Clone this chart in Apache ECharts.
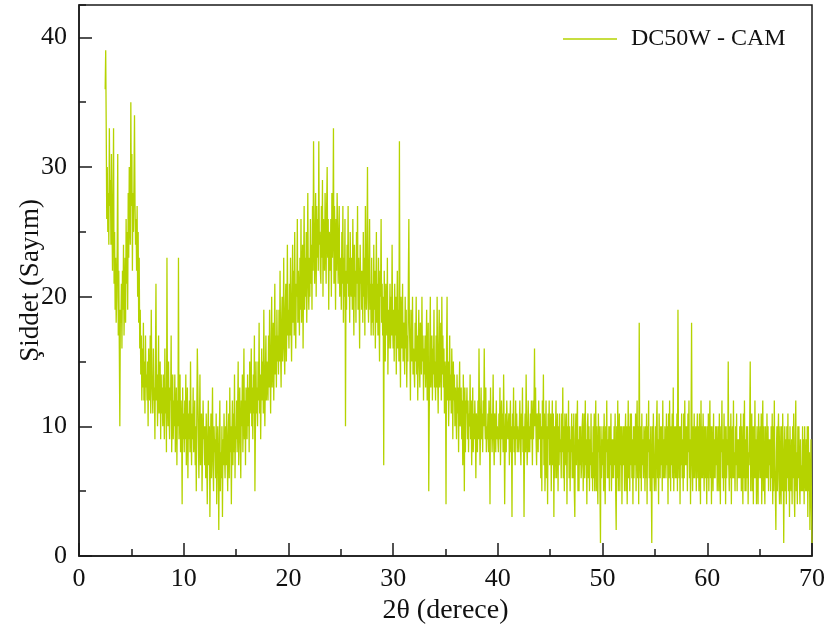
<!DOCTYPE html>
<html>
<head>
<meta charset="utf-8">
<script src="https://cdn.jsdelivr.net/npm/echarts@6/dist/echarts.min.js"></script>
<style>html,body{margin:0;padding:0;background:#fff}#c{width:830px;height:634px}</style>
</head>
<body>
<div id="c"></div>
<script>
// 2θ sampling (degrees)
const thetaStart = 2.5;
const thetaStep = 0.05;
const seriesName = 'DC50W - CAM';
const xTicks = [0, 10, 20, 30, 40, 50, 60, 70];
const yTicks = [0, 10, 20, 30, 40];
// Intensity counts (one row per degree)
const intensity = [
36,39,33,26,30,25,28,24,33,27,
29,24,31,26,22,27,33,21,25,19,23,18,20,24,31,17,22,16,10,19,
18,21,16,22,19,24,17,20,23,18,26,21,25,19,28,23,30,26,24,35,
27,31,22,28,25,29,34,27,24,26,22,27,20,25,18,23,16,19,14,17,
12,16,13,18,12,15,11,17,13,14,12,15,10,16,13,12,17,11,19,14,
14,11,16,12,13,9,15,21,12,14,10,13,17,11,12,15,9,14,11,13,
10,14,12,9,16,11,13,8,23,12,10,15,11,9,13,12,17,8,11,14,
9,12,10,14,8,11,13,7,12,10,23,9,11,14,8,12,10,4,13,9,
11,8,12,9,14,7,10,13,6,11,9,12,8,15,10,7,11,9,13,8,
9,12,7,10,5,11,16,13,9,6,10,14,7,9,11,5,8,12,9,10,
7,10,6,11,8,4,9,12,7,10,3,8,11,6,9,13,7,5,10,8,
9,6,11,4,8,10,7,2,9,12,5,8,6,10,3,9,7,11,8,6,
10,7,12,8,5,9,11,6,13,8,10,4,9,12,7,11,8,14,6,10,
9,12,8,11,15,7,10,13,9,6,12,10,14,8,11,16,9,12,7,13,
12,9,14,10,13,8,15,11,12,16,10,13,9,14,11,17,5,10,15,11,
13,10,15,12,18,11,14,9,13,16,12,15,11,19,13,10,14,17,12,15,
15,12,17,13,19,14,11,16,20,13,15,18,12,16,21,14,17,13,19,15,
17,14,19,15,22,16,13,18,20,15,17,23,16,14,19,21,15,18,24,17,
19,16,21,17,23,18,15,20,24,18,22,17,25,19,16,21,20,26,18,22,
20,17,23,19,26,18,21,24,16,22,27,19,23,20,25,18,22,28,21,19,
23,20,26,21,24,19,27,22,32,25,21,24,28,20,27,23,26,22,32,24,
25,22,21,27,23,29,20,26,24,22,28,25,21,27,30,23,26,19,25,24,
22,26,20,28,23,25,33,21,27,24,19,26,22,28,25,21,24,27,20,23,
22,19,25,21,27,18,23,20,26,10,22,19,24,21,27,20,23,18,25,21,
20,23,19,26,21,17,24,20,22,18,25,21,27,19,23,20,16,24,21,22,
19,22,18,25,20,23,17,27,21,19,24,30,20,18,22,26,19,21,17,23,
18,21,17,24,19,22,16,20,25,18,21,17,23,19,15,22,20,26,18,21,
17,20,7,22,18,15,21,19,17,23,14,19,16,18,21,16,20,17,24,18,
16,19,15,21,17,20,14,18,22,16,19,15,32,17,13,20,18,16,21,15,
15,18,14,20,16,19,13,17,15,21,26,18,16,12,19,17,15,20,14,16,
16,13,18,15,20,14,17,12,16,19,15,13,18,16,14,20,15,17,12,16,
14,17,13,16,19,12,15,18,5,11,16,20,13,15,17,12,16,14,19,13,
15,12,17,13,20,14,11,16,19,13,15,18,12,20,14,17,13,16,11,15,
14,4,16,20,12,15,10,13,17,12,14,11,16,13,9,15,12,14,10,13,
12,9,14,11,13,8,12,15,10,11,13,9,12,7,14,11,5,13,8,12,
11,13,9,12,8,11,10,14,9,12,7,10,13,8,11,9,12,10,6,11,
10,8,12,9,16,11,7,10,13,9,11,8,12,10,16,11,9,13,8,10,
9,11,8,12,10,4,13,9,11,8,10,14,9,7,11,10,8,12,9,10,
10,8,11,9,13,7,10,12,9,11,8,14,10,4,9,11,8,12,10,9,
9,11,7,10,12,8,10,3,11,9,13,8,10,7,12,9,11,8,10,9,
8,10,12,9,7,11,9,13,8,10,3,9,11,8,14,10,7,9,12,8,
10,8,11,9,12,10,7,12,9,11,16,10,13,9,7,11,10,8,12,9,
9,11,6,10,5,12,9,14,7,11,5,8,12,6,10,4,11,9,12,7,
8,11,5,9,12,7,11,3,10,6,9,12,6,9,11,5,10,7,11,8,
9,6,11,8,13,6,10,5,11,9,7,11,4,10,8,12,6,10,5,9,
8,11,6,10,6,11,5,3,9,11,7,10,12,5,9,5,10,7,10,6,
7,10,11,5,8,11,6,12,7,9,4,10,11,6,10,5,9,7,11,6,
8,5,10,6,11,5,9,12,5,10,7,4,11,8,10,5,1,10,6,9,
7,10,5,11,7,4,10,8,12,6,9,6,10,5,10,7,11,5,9,6,
9,6,10,7,11,5,2,10,6,12,5,9,11,5,10,7,10,4,8,10,
7,10,5,9,11,5,10,4,8,12,6,10,5,11,7,11,6,9,4,10,
6,10,7,11,5,9,12,6,10,4,18,8,6,10,5,11,7,9,6,10,
9,5,10,6,11,4,10,8,12,6,9,5,10,6,1,10,6,11,7,5,
7,10,5,10,12,6,9,4,11,8,6,10,7,10,5,12,6,9,6,10,
9,6,11,7,10,4,11,6,12,8,5,10,7,11,6,13,5,9,10,6,
10,6,11,5,19,8,6,10,4,10,7,11,6,9,5,11,6,12,7,10,
7,10,5,11,8,12,6,9,4,10,18,7,5,10,6,11,6,9,10,5,
9,11,6,10,5,11,7,4,12,6,10,6,11,8,5,10,6,10,7,4,
10,6,11,5,9,12,6,10,4,10,8,5,11,6,9,6,10,7,10,5,
7,10,5,11,7,4,10,8,12,6,9,5,11,6,10,4,10,6,9,7,
15,7,5,10,6,11,4,9,10,6,12,6,8,5,10,7,11,5,9,6,
9,6,10,6,11,5,10,7,4,11,6,12,5,9,5,10,6,10,4,8,
7,10,15,5,9,11,5,10,4,10,6,12,6,9,4,10,7,4,11,6,
6,10,6,11,4,9,12,5,10,6,4,10,7,6,11,6,10,5,9,7,
9,5,10,6,11,4,10,5,12,7,5,2,8,10,5,9,11,6,4,10,
6,4,10,5,11,8,1,7,10,5,9,4,10,6,11,5,9,3,10,6,
5,9,4,10,6,11,5,3,9,12,5,8,4,10,6,10,6,4,9,5,
7,5,10,5,9,4,10,6,5,9,5,10,3,10,5,8,2,5,9,4,
1
];

const data = intensity.map((v, i) => [Math.round((thetaStart + i * thetaStep) * 100) / 100, v]);

const FONT = 'Liberation Serif';
const INK = '#1a1a1a';
const chart = echarts.init(document.getElementById('c'), null, { renderer: 'canvas' });
chart.setOption({
  animation: false,
  backgroundColor: '#fff',
  grid: { left: 79, right: 18, top: 5, bottom: 78, outerBoundsMode: 'none', containLabel: false,
          show: true, borderColor: INK, borderWidth: 1.5, backgroundColor: 'transparent' },
  legend: {
    data: [seriesName],
    left: 558, top: 22, padding: 5,
    icon: 'rect', itemWidth: 54, itemHeight: 1.5,
    textStyle: { fontFamily: FONT, fontSize: 24, color: '#111', padding: [6, 0, 0, 9] }
  },
  xAxis: {
    type: 'value', min: xTicks[0], max: xTicks[xTicks.length - 1], interval: 10,
    name: '2θ (derece)', nameLocation: 'middle', nameGap: 40,
    nameTextStyle: { fontFamily: FONT, fontSize: 28, color: '#111' },
    axisLine: { show: true, lineStyle: { color: INK, width: 1.5 } },
    axisTick: { show: true, inside: true, length: 13, lineStyle: { color: INK, width: 1.5 } },
    minorTick: { show: true, splitNumber: 2, length: 7, lineStyle: { color: INK, width: 1.5 } },
    axisLabel: { fontFamily: FONT, fontSize: 26, color: '#111', margin: 10 },
    splitLine: { show: false }, minorSplitLine: { show: false }
  },
  yAxis: [{
    type: 'value', min: 0, max: 42.5, interval: 10,
    name: 'Şiddet (Sayım)', nameLocation: 'middle', nameGap: 35, nameRotate: 90, nameMoveOverlap: false,
    nameTextStyle: { fontFamily: FONT, fontSize: 27, color: '#111' },
    axisLine: { show: true, lineStyle: { color: INK, width: 1.5 } },
    axisTick: { show: true, inside: true, length: 13, lineStyle: { color: INK, width: 1.5 } },
    axisLabel: { fontFamily: FONT, fontSize: 26, color: '#111', margin: 12, showMaxLabel: false,
      formatter: v => (yTicks.indexOf(v) >= 0 ? String(v) : '') },
    splitLine: { show: false }
  }, {
    type: 'value', min: 0, max: 42.5, interval: 5, position: 'left', offset: 0,
    axisLine: { show: false },
    axisTick: { show: true, inside: true, length: 7, lineStyle: { color: INK, width: 1.5 } },
    axisLabel: { show: false },
    splitLine: { show: false }
  }],
  series: [{
    name: seriesName, type: 'line', data: data, yAxisIndex: 0,
    showSymbol: false, symbol: 'none', sampling: null,
    lineStyle: { color: '#b5d300', width: 1.3 },
    itemStyle: { color: '#b5d300' }
  }]
});
</script>
</body>
</html>
